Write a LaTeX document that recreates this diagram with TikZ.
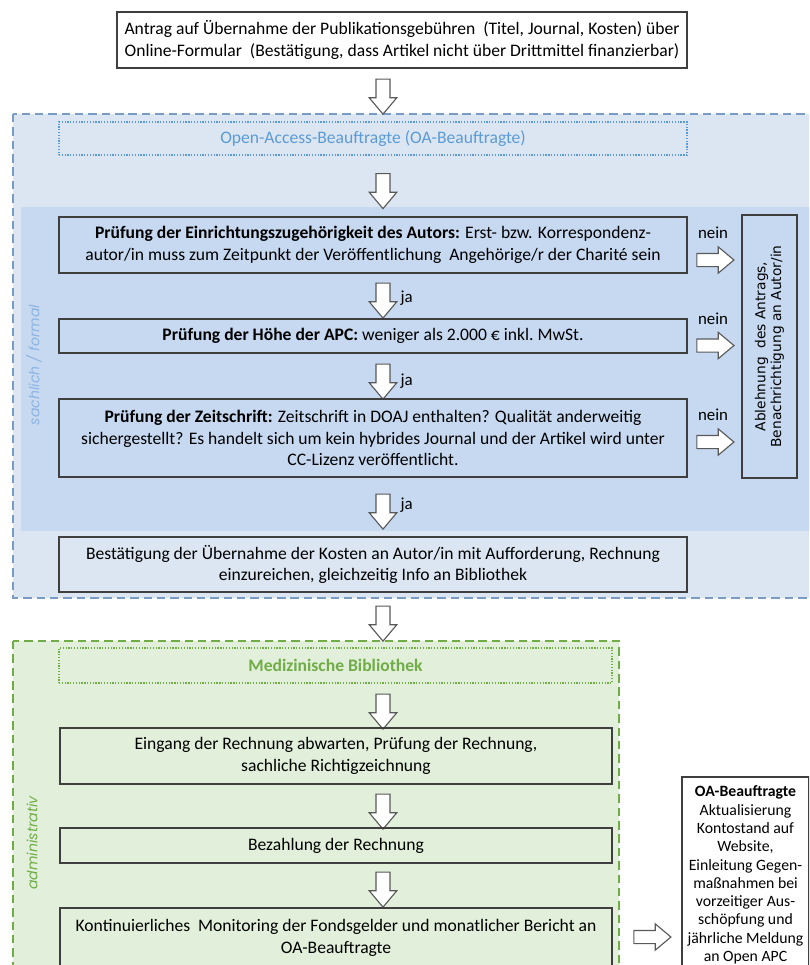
\documentclass[tikz,border=0pt]{standalone}
\usepackage{fontspec}
\setmainfont{Carlito}
\newfontfamily\vfont{DejaVu Sans}
\newfontfamily\geofont{Poppins}
\usepackage{xcolor}
\usepackage{tikz}
\usetikzlibrary{shapes.arrows}

\definecolor{blauHell}{HTML}{DCE6F2}
\definecolor{blauDunkel}{HTML}{C6D9F1}
\definecolor{blauRand}{HTML}{7A9CC4}
\definecolor{blauText}{HTML}{5B9BD5}
\definecolor{blauLabel}{HTML}{8DB4E2}
\definecolor{gruenHell}{HTML}{E2EFDA}
\definecolor{gruenRand}{HTML}{70AD47}
\definecolor{rahmen}{HTML}{3F3F3F}
\definecolor{pfeil}{HTML}{595959}

\begin{document}
\begin{tikzpicture}[x=0.025cm, y=-0.025cm, line width=0.9pt,
    box/.style={draw=rahmen, align=center, inner sep=0pt, font=\fontsize{12.5}{15.5}\selectfont},
    dotbox/.style={line width=1.2pt, dash pattern=on 0.9pt off 1.1pt, align=center, inner sep=0pt, font=\fontsize{12.5}{15.5}\selectfont},
    darr/.style={single arrow, draw=pfeil, fill=white, line width=0.8pt, rotate=-90,
        minimum height=0.875cm, inner xsep=0pt, inner ysep=0.16cm,
        single arrow head extend=0.17cm, single arrow tip angle=80},
    rarr/.style={single arrow, draw=pfeil, fill=white, line width=0.8pt,
        minimum height=0.925cm, inner xsep=0pt, inner ysep=0.15cm,
        single arrow head extend=0.165cm, single arrow tip angle=80},
    lbl/.style={font=\fontsize{12}{14}\selectfont, inner sep=0pt}]
        \useasboundingbox (0,0) rectangle (809,965);
        \clip (0,0) rectangle (809,965);

        % 蓝色区域 (OA-Beauftragte)
        \fill[blauHell] (13,114) rectangle (840,598);
        \draw[blauRand, dash pattern=on 6pt off 3.5pt] (13,114) rectangle (840,598);
        \fill[blauDunkel] (21,207) rectangle (840,531);

        % 绿色区域 (Bibliothek)
        \fill[gruenHell] (13,641) rectangle (619,1000);
        \draw[gruenRand, dash pattern=on 6pt off 3.5pt] (13,641) rectangle (619,1000);

        % 开头的申请
        \node[box, fill=white, minimum width=14.25cm, minimum height=1.4cm] (antrag) at (402,40)
            {Antrag auf Übernahme der Publikationsgebühren\ \ (Titel, Journal, Kosten) über\\Online-Formular\ \ (Bestätigung, dass Artikel nicht über Drittmittel finanzierbar)};
        \node[darr] (a1) at (383,92.5) {};

        % 负责人
        \node[dotbox, draw=blauText, text=blauText, minimum width=15.7cm, minimum height=0.825cm] (oa) at (373,138.5)
            {Open-Access-Beauftragte (OA-Beauftragte)};
        \node[darr] (a2) at (383,187) {};

        % 三个检查步骤
        \node[box, minimum width=15.7cm, minimum height=1.4cm] (p1) at (373,245)
            {\textbf{Prüfung der Einrichtungszugehörigkeit des Autors:} Erst- bzw. Korrespondenz-\\autor/in muss zum Zeitpunkt der Veröffentlichung\ \ Angehörige/r der Charité sein};
        \node[darr] (a3) at (383,296.5) {};
        \node[lbl, anchor=west] (ja1) at (400,298) {ja};

        \node[box, minimum width=15.7cm, minimum height=0.85cm] (p2) at (373,336)
            {\textbf{Prüfung der Höhe der APC:} weniger als 2.000 € inkl.\ MwSt.};
        \node[darr] (a4) at (383,377.5) {};
        \node[lbl, anchor=west] (ja2) at (400,381) {ja};

        \node[box, minimum width=15.7cm, minimum height=1.95cm] (p3) at (373,438)
            {\textbf{Prüfung der Zeitschrift:} Zeitschrift in DOAJ enthalten? Qualität anderweitig\\sichergestellt? Es handelt sich um kein hybrides Journal und der Artikel wird unter\\CC-Lizenz veröffentlicht.};
        \node[darr] (a5) at (383,507.5) {};
        \node[lbl, anchor=west] (ja3) at (400,505) {ja};

        % 拒绝
        \node[box, rotate=90, minimum width=6.575cm, minimum height=1.375cm,
            font=\vfont\fontsize{9.8}{11.2}\selectfont] (abl) at (769.5,346.5)
            {Ablehnung\ \ des Antrags,\\Benachrichtigung an Autor/in};
        \foreach \y/\n in {260/1, 345.5/2, 442/3} {
            \node[rarr] (r\n) at (711.5,\y) {};
            \node[lbl] (nein\n) at (713,\y-27) {nein};
        }

        % 确认
        \node[box, minimum width=15.7cm, minimum height=1.375cm] (best) at (373,564.5)
            {Bestätigung der Übernahme der Kosten an Autor/in mit Aufforderung, Rechnung\\einzureichen, gleichzeitig Info an Bibliothek};
        \node[darr] (a6) at (383,619.5) {};

        % 图书馆
        \node[dotbox, draw=gruenRand, text=gruenRand, font=\bfseries\fontsize{12.5}{15.5}\selectfont,
            minimum width=13.825cm, minimum height=0.875cm] (mb) at (335.5,665.5) {Medizinische Bibliothek};
        \node[darr] (a7) at (383,707.5) {};
        \node[box, minimum width=13.8cm, minimum height=1.4cm] (eing) at (336,756)
            {Eingang der Rechnung abwarten, Prüfung der Rechnung,\\sachliche Richtigzeichnung};
        \node[darr] (a8) at (383,807.5) {};
        \node[box, minimum width=13.8cm, minimum height=0.875cm] (bez) at (336,845.5) {Bezahlung der Rechnung};
        \node[darr] (a9) at (383,885.5) {};
        \node[box, minimum width=13.8cm, minimum height=1.5cm] (mon) at (336,938)
            {Kontinuierliches\ \ Monitoring der Fondsgelder und monatlicher Bericht an\\OA-Beauftragte};

        % 右下角的框
        \node[rarr] (r4) at (648.5,937) {};
        \node[box, fill=white, minimum width=3.175cm, minimum height=4.9cm,
            font=\fontsize{11.2}{13}\selectfont] (oar) at (745.5,875)
            {\textbf{OA-Beauftragte}\\Aktualisierung\\Kontostand auf\\Website,\\Einleitung Gegen-\\maßnahmen bei\\vorzeitiger Aus-\\schöpfung und\\jährliche Meldung\\an Open APC};

        % 侧面标签
        \node[rotate=90, text=blauLabel, font=\geofont\itshape\fontsize{10}{12}\selectfont] (sach) at (34,365) {sachlich / formal};
        \node[rotate=90, text=gruenRand, font=\geofont\itshape\fontsize{10}{12}\selectfont] (adm) at (32,843) {administrativ};
    \end{tikzpicture}
\end{document}
